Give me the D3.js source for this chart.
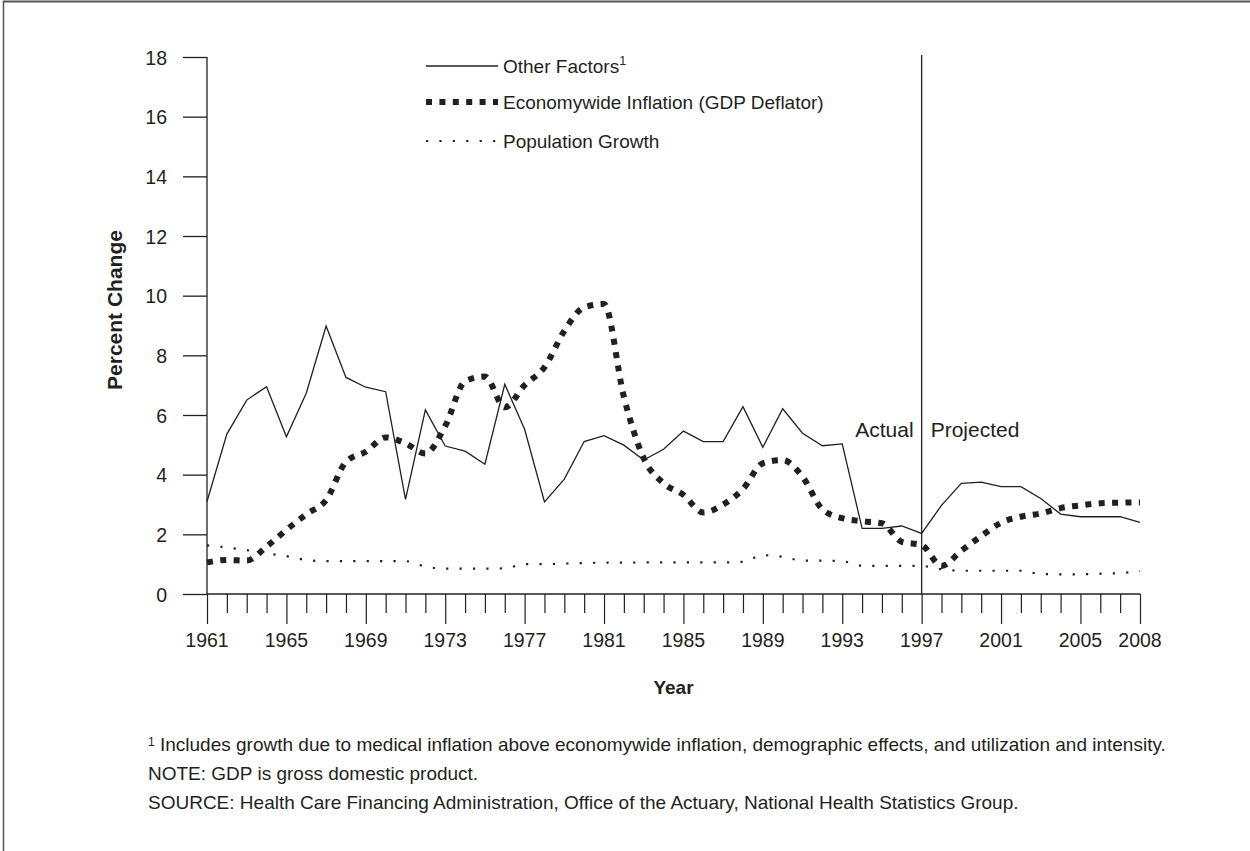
<!DOCTYPE html>
<html>
<head>
<meta charset="utf-8">
<script src="https://cdn.jsdelivr.net/npm/d3@7"></script>
<style>
  body { margin: 0; background: #fff; }
  text { font-family: "Liberation Sans", Arial, sans-serif; fill: #231f20; }
</style>
</head>
<body>
<svg id="chart" width="1250" height="851"></svg>
<script>
// data
var years = d3.range(1961, 2009);
var otherFactors = [3.1, 5.36, 6.5, 6.95, 5.27, 6.73, 8.98, 7.26, 6.93, 6.78,
  3.17, 6.17, 4.96, 4.79, 4.35, 7.03, 5.52, 3.09, 3.85, 5.11,
  5.31, 4.99, 4.49, 4.85, 5.46, 5.11, 5.11, 6.28, 4.92, 6.21,
  5.39, 4.97, 5.03, 2.2, 2.2, 2.28, 2.03, 2.97, 3.71, 3.75,
  3.6, 3.6, 3.2, 2.68, 2.59, 2.59, 2.59, 2.4];
var inflation = [1.06, 1.14, 1.12, 1.59, 2.15, 2.67, 3.15, 4.43, 4.77, 5.25,
  5.05, 4.71, 5.63, 7.13, 7.29, 6.26, 7.0, 7.6, 8.82, 9.61,
  9.72, 6.61, 4.55, 3.71, 3.32, 2.73, 3.0, 3.52, 4.38, 4.49,
  3.93, 2.84, 2.54, 2.44, 2.37, 1.75, 1.64, 0.94, 1.45, 1.94,
  2.39, 2.59, 2.7, 2.88, 2.97, 3.04, 3.06, 3.07];
var population = [1.63, 1.56, 1.47, 1.36, 1.27, 1.14, 1.1, 1.1, 1.1, 1.1,
  1.1, 0.92, 0.85, 0.85, 0.85, 0.86, 1.0, 1.0, 1.02, 1.04,
  1.05, 1.05, 1.06, 1.06, 1.06, 1.06, 1.06, 1.08, 1.3, 1.25,
  1.12, 1.12, 1.1, 0.95, 0.94, 0.94, 0.94, 0.83, 0.78, 0.78,
  0.78, 0.78, 0.67, 0.66, 0.66, 0.68, 0.7, 0.77];
var yTicks = [0, 2, 4, 6, 8, 10, 12, 14, 16, 18];
var xLabels = [1961, 1965, 1969, 1973, 1977, 1981, 1985, 1989, 1993, 1997, 2001, 2005, 2008];
var splitYear = 1997;

var svg = d3.select("#chart");
var ink = "#231f20";

// frame
svg.append("line").attr("x1", 3).attr("x2", 1250).attr("y1", 1.5).attr("y2", 1.5)
  .attr("stroke", "#555").attr("stroke-width", 2);
svg.append("line").attr("x1", 3.5).attr("x2", 3.5).attr("y1", 1).attr("y2", 851)
  .attr("stroke", "#555").attr("stroke-width", 1.5);

var x = d3.scaleLinear().domain([1961, 2008]).range([207, 1140]);
var y = d3.scaleLinear().domain([0, 18]).range([594, 57]);

var g = svg.append("g");

// y axis
var yAxis = g.append("g")
  .attr("transform", "translate(207,0)")
  .call(d3.axisLeft(y).tickValues(yTicks).tickSize(24).tickPadding(16).tickFormat(d3.format("d")));
yAxis.select(".domain").remove();
yAxis.selectAll("line").attr("stroke", ink).attr("stroke-width", 1.3);
yAxis.selectAll("text").attr("font-size", 19.5).attr("dy", "0.36em")
  .style("font-family", "Liberation Sans, Arial, sans-serif").attr("fill", ink);
g.append("line").attr("x1", 207).attr("x2", 207).attr("y1", y(18)).attr("y2", y(0))
  .attr("stroke", ink).attr("stroke-width", 1.3);

// x axis
g.append("line").attr("x1", 207).attr("x2", 1140).attr("y1", y(0)).attr("y2", y(0))
  .attr("stroke", ink).attr("stroke-width", 1.5);
var xAxis = g.append("g")
  .attr("transform", "translate(0," + y(0) + ")")
  .call(d3.axisBottom(x).tickValues(years).tickSize(20).tickFormat(""));
xAxis.select(".domain").remove();
xAxis.selectAll(".tick line")
  .attr("stroke", ink).attr("stroke-width", 1.2)
  .attr("y2", function(d) { return xLabels.indexOf(d) >= 0 ? 30 : 19; });
g.append("g").selectAll("text")
  .data(xLabels).enter().append("text")
  .attr("x", function(d) { return x(d); })
  .attr("y", 647)
  .attr("text-anchor", "middle")
  .attr("font-size", 19.5)
  .text(function(d) { return d; });

// axis titles
g.append("text")
  .attr("transform", "translate(122,310) rotate(-90)")
  .attr("text-anchor", "middle")
  .attr("font-size", 21).attr("font-weight", "bold")
  .text("Percent Change");
g.append("text")
  .attr("x", (x.range()[0] + x.range()[1]) / 2).attr("y", 694)
  .attr("text-anchor", "middle")
  .attr("font-size", 19).attr("font-weight", "bold")
  .text("Year");

// actual / projected divider
g.append("line").attr("x1", x(splitYear)).attr("x2", x(splitYear))
  .attr("y1", 55).attr("y2", y(0))
  .attr("stroke", ink).attr("stroke-width", 1.3);
g.append("text").attr("x", x(splitYear) - 8).attr("y", 437)
  .attr("text-anchor", "end").attr("font-size", 21).text("Actual");
g.append("text").attr("x", x(splitYear) + 9).attr("y", 437)
  .attr("font-size", 21).text("Projected");

// series
function series(values, curve) {
  return d3.line()
    .x(function(d, i) { return x(years[i]); })
    .y(function(d) { return y(d); })
    .curve(curve)(values);
}

g.append("path")
  .attr("d", series(population, d3.curveMonotoneX))
  .attr("fill", "none").attr("stroke", ink)
  .attr("stroke-width", 2.2).attr("stroke-dasharray", "2.2,11.2");

g.append("path")
  .attr("d", series(inflation, d3.curveMonotoneX))
  .attr("fill", "none").attr("stroke", ink)
  .attr("stroke-width", 6).attr("stroke-dasharray", "6,7.4");

g.append("path")
  .attr("d", series(otherFactors, d3.curveLinear))
  .attr("fill", "none").attr("stroke", ink)
  .attr("stroke-width", 1.3);

// legend
var legend = [
  {label: "Other Factors", sup: "1", width: 1.3, dash: null, y: 66},
  {label: "Economywide Inflation (GDP Deflator)", sup: null, width: 6, dash: "6,7.4", y: 102},
  {label: "Population Growth", sup: null, width: 2.2, dash: "2.2,11.2", y: 141}
];
var lg = g.append("g").selectAll("g").data(legend).enter().append("g");
lg.append("line")
  .attr("x1", 426).attr("x2", 498)
  .attr("y1", function(d) { return d.y; }).attr("y2", function(d) { return d.y; })
  .attr("stroke", ink)
  .attr("stroke-width", function(d) { return d.width; })
  .attr("stroke-dasharray", function(d) { return d.dash; });
var lt = lg.append("text")
  .attr("x", 503)
  .attr("y", function(d) { return d.y + 7; })
  .attr("font-size", 19);
lt.append("tspan").text(function(d) { return d.label; });
lt.filter(function(d) { return d.sup; }).append("tspan")
  .attr("font-size", 12.5).attr("dy", -8)
  .text(function(d) { return d.sup; });

// notes
var notes = g.append("g");
var n1 = notes.append("text").attr("x", 148).attr("y", 751).attr("font-size", 19);
n1.append("tspan").attr("font-size", 12).attr("dy", -5).text("1");
n1.append("tspan").attr("dy", 5).text(" Includes growth due to medical inflation above economywide inflation, demographic effects, and utilization and intensity.");
notes.append("text").attr("x", 148).attr("y", 780).attr("font-size", 19)
  .text("NOTE: GDP is gross domestic product.");
notes.append("text").attr("x", 148).attr("y", 809).attr("font-size", 19)
  .text("SOURCE: Health Care Financing Administration, Office of the Actuary, National Health Statistics Group.");
</script>
</body>
</html>
